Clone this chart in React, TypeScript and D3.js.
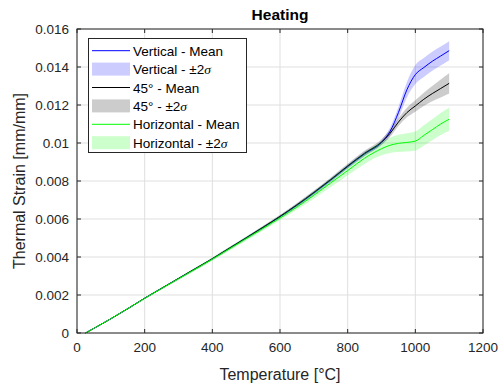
import React from "react";
import * as d3 from "d3";

const temps = [25, 100, 150, 200, 250, 300, 350, 400, 450, 500, 550, 600, 650, 700, 750, 800, 850, 900, 925, 950, 975, 1000, 1025, 1050, 1075, 1100];
const vertMean = [0, 0.00075, 0.00128, 0.00183, 0.00235, 0.00287, 0.00338, 0.0039, 0.00445, 0.005, 0.00555, 0.00612, 0.00672, 0.00737, 0.00805, 0.00876, 0.00943, 0.01003, 0.0106, 0.0116, 0.0128, 0.0136, 0.01397, 0.0143, 0.01458, 0.01486];
const vertSig = [0, 0.00002, 0.00003, 0.00003, 0.00004, 0.00004, 0.00005, 0.00005, 0.00006, 0.00006, 0.00007, 0.00007, 0.00008, 0.00009, 0.0001, 0.0001, 0.00011, 0.00012, 0.0002, 0.0003, 0.0004, 0.0005, 0.0005, 0.0005, 0.0005, 0.0005];
const diagMean = [0, 0.00075, 0.00128, 0.00183, 0.00235, 0.00287, 0.00339, 0.00391, 0.00446, 0.00501, 0.00557, 0.00614, 0.00675, 0.0074, 0.00808, 0.00879, 0.00946, 0.01005, 0.0105, 0.0111, 0.0116, 0.01195, 0.0123, 0.0126, 0.01287, 0.01314];
const diagSig = [0, 0.00002, 0.00003, 0.00003, 0.00004, 0.00004, 0.00005, 0.00005, 0.00006, 0.00006, 0.00007, 0.00008, 0.00009, 0.0001, 0.00011, 0.00012, 0.00014, 0.00015, 0.00018, 0.0002, 0.00025, 0.0003, 0.00035, 0.0004, 0.00047, 0.00053];
const horizMean = [0, 0.00075, 0.00128, 0.00182, 0.00234, 0.00285, 0.00336, 0.00388, 0.00442, 0.00496, 0.0055, 0.00605, 0.00663, 0.00725, 0.0079, 0.00855, 0.0092, 0.0097, 0.00988, 0.00998, 0.01003, 0.0101, 0.0104, 0.0107, 0.011, 0.01125];
const horizSig = [0, 0.00002, 0.00003, 0.00004, 0.00005, 0.00006, 0.00007, 0.00008, 0.00009, 0.0001, 0.0001, 0.00011, 0.00014, 0.00018, 0.00022, 0.00025, 0.0003, 0.00035, 0.0004, 0.00045, 0.00048, 0.0005, 0.00053, 0.00055, 0.00058, 0.0006];

const xTicks = [0, 200, 400, 600, 800, 1000, 1200];
const yTicks = [0, 0.002, 0.004, 0.006, 0.008, 0.01, 0.012, 0.014, 0.016];

const series = [
  { name: "Vertical", mean: vertMean, sig: vertSig, line: "#0000ff" },
  { name: "45°", mean: diagMean, sig: diagSig, line: "#000000" },
  { name: "Horizontal", mean: horizMean, sig: horizSig, line: "#00ff00" },
];

const W = 499, H = 383;
const L = 77, R = 483, T = 29, B = 333;
const axisColor = "#262626";
const font = "'Liberation Sans', Arial, Helvetica, sans-serif";

export default function App() {
  const x = d3.scaleLinear().domain([0, 1200]).range([L, R]);
  const y = d3.scaleLinear().domain([0, 0.016]).range([B, T]);
  const curve = d3.curveMonotoneX;
  const fmtY = (v: number) => (v === 0 ? "0" : String(+v.toFixed(3)));

  return (
    <svg width={W} height={H} style={{ position: "absolute", left: 0, top: 0, background: "#fff" }} fontFamily={font}>
      <rect x={0} y={0} width={W} height={H} fill="#fff" />
      <rect x={L} y={T} width={R - L} height={B - T} fill="#fff" />
      {xTicks.map((t) => (
        <line key={"gx" + t} x1={x(t)} x2={x(t)} y1={T} y2={B} stroke="#dfdfdf" strokeWidth={1} />
      ))}
      {yTicks.map((t) => (
        <line key={"gy" + t} x1={L} x2={R} y1={y(t)} y2={y(t)} stroke="#dfdfdf" strokeWidth={1} />
      ))}
      {series.map((s) => {
        const pts = temps.map((t, i) => ({ t, m: s.mean[i], sd: s.sig[i] }));
        const area = d3
          .area<{ t: number; m: number; sd: number }>()
          .x((d) => x(d.t))
          .y0((d) => y(d.m - d.sd))
          .y1((d) => y(d.m + d.sd))
          .curve(curve);
        const line = d3
          .line<{ t: number; m: number; sd: number }>()
          .x((d) => x(d.t))
          .y((d) => y(d.m))
          .curve(curve);
        return (
          <g key={s.name}>
            <path d={line(pts) || ""} fill="none" stroke={s.line} strokeWidth={1} />
            <path d={area(pts) || ""} fill={s.line} fillOpacity={0.2} stroke="none" />
          </g>
        );
      })}
      <rect x={L} y={T} width={R - L} height={B - T} fill="none" stroke={axisColor} strokeWidth={1} />
      {xTicks.map((t) => (
        <g key={"tx" + t}>
          <line x1={x(t)} x2={x(t)} y1={B} y2={B - 4} stroke={axisColor} />
          <line x1={x(t)} x2={x(t)} y1={T} y2={T + 4} stroke={axisColor} />
          <text x={x(t)} y={B + 19} fontSize={13.5} fill={axisColor} textAnchor="middle">
            {t}
          </text>
        </g>
      ))}
      {yTicks.map((t) => (
        <g key={"ty" + t}>
          <line x1={L} x2={L + 4} y1={y(t)} y2={y(t)} stroke={axisColor} />
          <line x1={R} x2={R - 4} y1={y(t)} y2={y(t)} stroke={axisColor} />
          <text x={L - 8} y={y(t) + 5} fontSize={13.5} fill={axisColor} textAnchor="end">
            {fmtY(t)}
          </text>
        </g>
      ))}
      <text x={(L + R) / 2} y={380} fontSize={16} fill={axisColor} textAnchor="middle">
        Temperature [°C]
      </text>
      <text
        transform={`translate(${25},${(T + B) / 2}) rotate(-90)`}
        fontSize={16}
        fill={axisColor}
        textAnchor="middle"
      >
        Thermal Strain [mm/mm]
      </text>
      <text x={(L + R) / 2} y={20} fontSize={15.5} fontWeight="bold" fill="#000" textAnchor="middle">
        Heating
      </text>
      <g>
        <rect x={88.5} y={38.5} width={158} height={114} fill="#fff" stroke={axisColor} strokeWidth={1} />
        {series.map((s, i) => {
          const y1 = 50.7 + i * 2 * 18.4;
          const y2 = y1 + 18.4;
          return (
            <g key={"lg" + s.name}>
              <line x1={92} x2={130} y1={y1} y2={y1} stroke={s.line} strokeWidth={1} />
              <text x={133} y={y1 + 5} fontSize={13.5} fill="#000">
                {s.name} - Mean
              </text>
              <rect x={92} y={y2 - 6.5} width={38} height={13} fill={s.line} fillOpacity={0.2} />
              <text x={133} y={y2 + 5} fontSize={13.5} fill="#000">
                {s.name} - ±2
                <tspan fontFamily="'Liberation Serif', 'Times New Roman', serif" fontStyle="italic">
                  σ
                </tspan>
              </text>
            </g>
          );
        })}
      </g>
    </svg>
  );
}
